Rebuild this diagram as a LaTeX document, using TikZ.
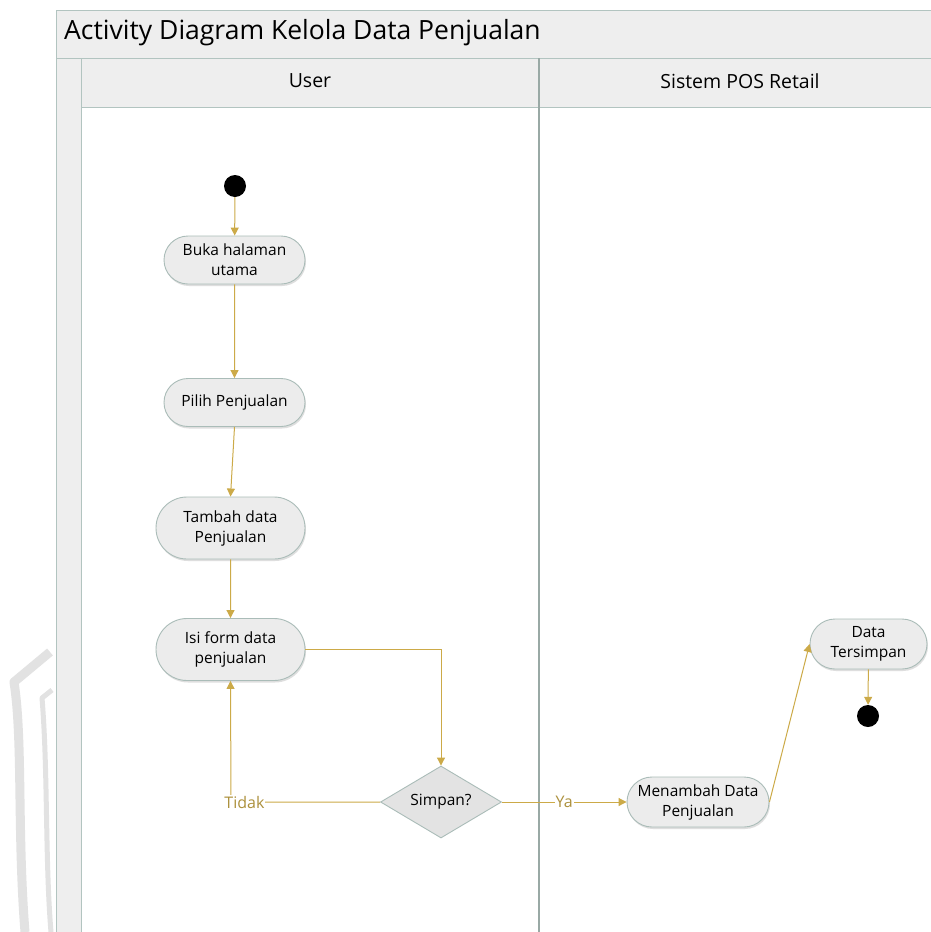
\documentclass[tikz,border=0pt]{standalone}
\usepackage{fontspec}
\setmainfont{Open Sans}
\usetikzlibrary{shapes.misc,shapes.geometric,shadows,arrows.meta}
\definecolor{flow}{RGB}{204,170,72}
\definecolor{frame}{RGB}{178,196,192}
\definecolor{lanefill}{RGB}{238,238,238}
\definecolor{actfill}{RGB}{236,236,236}
\definecolor{actline}{RGB}{170,188,184}
\definecolor{crestgrey}{RGB}{226,226,226}
\begin{document}
\begin{tikzpicture}[x=1pt,y=-1pt,
  activity/.style={rounded rectangle, draw=actline, fill=actfill, line width=0.9pt,
    minimum height=48pt, align=center, font=\fontsize{15.5}{20}\selectfont, inner xsep=2pt,
    drop shadow={shadow xshift=1pt, shadow yshift=-2pt, fill=black!25, opacity=0.5}},
  decision/.style={diamond, draw=actline, fill=black!11, line width=0.9pt,
    minimum width=121pt, minimum height=72pt, inner sep=0pt, aspect=1.68,
    font=\fontsize{15.5}{20}\selectfont},
  startdot/.style={circle, fill=black, minimum size=22pt, inner sep=0pt},
  flowline/.style={draw=flow, line width=1pt, -{Triangle[length=8pt,width=8pt]}},
  guard/.style={text=flow!85!black, font=\fontsize{16}{19}\selectfont, fill=white, inner sep=1pt},
  poolline/.style={draw=frame, line width=1pt}
]
\useasboundingbox (0,0) rectangle (931,932);
\fill[white] (0,0) rectangle (931,932);

% faint crest printed behind the page
\draw[crestgrey, line width=9pt, line join=round] (50,652) -- (14,682) .. controls (23,740) and (17,830) .. (25,932);
\draw[crestgrey, line width=5pt, line join=round] (52,690) -- (42,698) .. controls (48,770) and (45,860) .. (51,932);

% pool backgrounds
\fill[lanefill] (56,10) rectangle (935,58);
\fill[lanefill] (56,58) rectangle (81,936);
\fill[lanefill] (81,58) rectangle (935,107);

% pool borders and lane divider
\draw[poolline] (935,10) -- (56,10) -- (56,936);
\draw[poolline] (56,58) -- (935,58);
\draw[poolline] (81,58) -- (81,936);
\draw[poolline] (81,107) -- (935,107);
\draw[actline!90!black, line width=1.2pt] (539,58) -- (539,936);

\node[anchor=west, font=\fontsize{26.5}{30}\selectfont, inner sep=0pt] (title) at (64,33) {Activity Diagram Kelola Data Penjualan};
\node[font=\fontsize{19.5}{22}\selectfont] (laneA) at (310,81) {User};
\node[font=\fontsize{19.5}{22}\selectfont] (laneB) at (740,81) {Sistem POS Retail};

% activities
\node[startdot] (start) at (235,186) {};
\node[activity, minimum width=145pt] (buka) at (234.5,260) {Buka halaman\\utama};
\node[activity, minimum width=145pt] (pilih) at (234.5,402.5) {Pilih Penjualan};
\node[activity, minimum width=153pt, minimum height=62pt] (tambah) at (230.5,528) {Tambah data\\Penjualan};
\node[activity, minimum width=153pt, minimum height=62pt] (isi) at (230.5,649.5) {Isi form data\\penjualan};
\node[decision] (simpan) at (441,802) {Simpan?};
\node[activity, minimum width=146pt, minimum height=50pt] (menambah) at (698,802) {Menambah Data\\Penjualan};
\node[activity, minimum width=121pt, minimum height=50pt] (tersimpan) at (868.5,644) {Data\\Tersimpan};
\node[startdot] (stop) at (868,716) {};

% control flow
\draw[flowline] (start) -- (buka);
\draw[flowline] (buka) -- (pilih);
\draw[flowline] (pilih.south) -- (tambah.north);
\draw[flowline] (tambah) -- (isi);
\draw[flowline] (isi.east) -| (simpan.north);
\draw[flowline] (simpan.west) -- (231,802) node[guard, pos=0.91] (tidak) {Tidak} -- (isi.south);
\draw[flowline] (simpan.east) -- (menambah.west) node[guard, pos=0.5] (ya) {Ya};
\draw[flowline] (menambah.east) -- (tersimpan.west);
\draw[flowline] (tersimpan) -- (stop);
\end{tikzpicture}
\end{document}
